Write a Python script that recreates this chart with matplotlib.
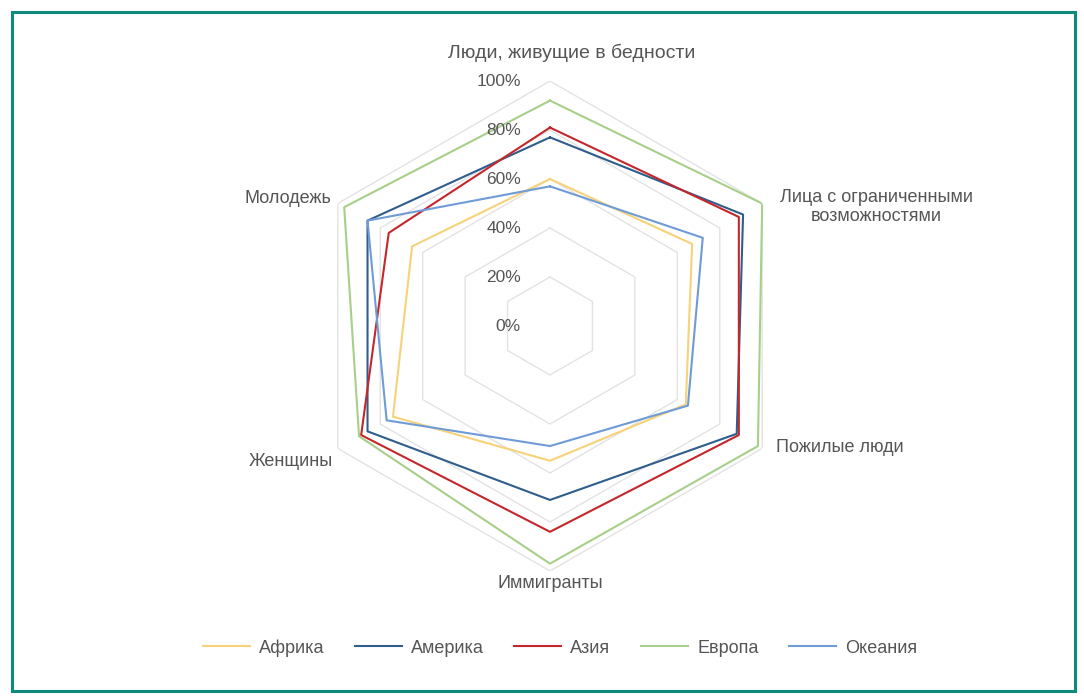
import numpy as np
import matplotlib
matplotlib.use("Agg")
import matplotlib.pyplot as plt
from matplotlib.patches import Rectangle
from matplotlib.transforms import offset_copy

plt.rcParams["font.family"] = ["Liberation Sans", "DejaVu Sans"]

categories = [
    "Люди, живущие в бедности",
    "Лица с ограниченными\nвозможностями",
    "Пожилые люди",
    "Иммигранты",
    "Женщины",
    "Молодежь",
]
series_names = ["Африка", "Америка", "Азия", "Европа", "Океания"]
africa = [60, 67, 64, 55, 74, 65]
america = [77, 91, 88, 71, 86, 86]
asia = [81, 89, 89, 84, 89, 76]
europe = [92, 100, 98, 97, 90, 97]
oceania = [57, 72, 65, 49, 77, 86]
ticks = [0, 20, 40, 60, 80, 100]
tick_labels = ["0%", "20%", "40%", "60%", "80%", "100%"]

colors = ["#f7d27a", "#2f5d8c", "#c3272b", "#a8cf8a", "#6f9bd6"]
text_color = "#555555"

fig = plt.figure(figsize=(10.84, 6.98), dpi=100)
ax = fig.add_axes([305 / 1084, 127 / 698, 490 / 1084, 490 / 698], projection="polar")
ax.set_theta_offset(np.pi / 2)
ax.set_theta_direction(-1)
ax.set_ylim(0, 100)
ax.grid(False)
ax.set_xticks([])
ax.set_yticks([])
ax.spines["polar"].set_visible(False)

n = len(categories)
theta = np.linspace(0, 2 * np.pi, n, endpoint=False)
theta_closed = np.append(theta, theta[0])

# hexagonal gridlines
for t in ticks[1:]:
    ax.plot(theta_closed, [t] * (n + 1), color="#e3e3e3", lw=1.0, zorder=1)

for name, vals, c in zip(series_names, [africa, america, asia, europe, oceania], colors):
    v = np.append(vals, vals[0])
    ax.plot(theta_closed, v, color=c, lw=1.5, label=name, zorder=3)

# value labels left of the top axis
tick_tr = offset_copy(ax.transData, fig=fig, x=-29, y=0, units="dots")
for t, lab in zip(ticks, tick_labels):
    ax.text(0, t, lab, transform=tick_tr, ha="right", va="center",
            fontsize=12.5, color=text_color)

# category labels
label_pos = [
    (np.deg2rad(4.6), 112, "center", 14),
    (np.deg2rad(62.6), 105.7, "left", 13),
    (np.deg2rad(118.2), 104.6, "left", 13),
    (np.deg2rad(180), 105, "center", 13),
    (np.deg2rad(238), 104.5, "right", 13),
    (np.deg2rad(300.3), 103.5, "right", 13),
]
for (th, r, ha, fs), lab in zip(label_pos, categories):
    ax.text(th, r, lab, ha=ha, va="center", multialignment="center",
            fontsize=fs, color=text_color, clip_on=False)

leg = fig.legend(loc="center", bbox_to_anchor=(560 / 1084, 1 - 648 / 698), ncol=5,
                 frameon=False, fontsize=13, handlelength=2.6, columnspacing=1.7,
                 handletextpad=0.5)
for t in leg.get_texts():
    t.set_color(text_color)

fig.patches.append(Rectangle((12 / 1084, 1 - 691 / 698), 1063 / 1084, 679 / 698,
                             transform=fig.transFigure, fill=False,
                             edgecolor="#10897f", lw=2.2))

fig.savefig("out.png", dpi=100)
